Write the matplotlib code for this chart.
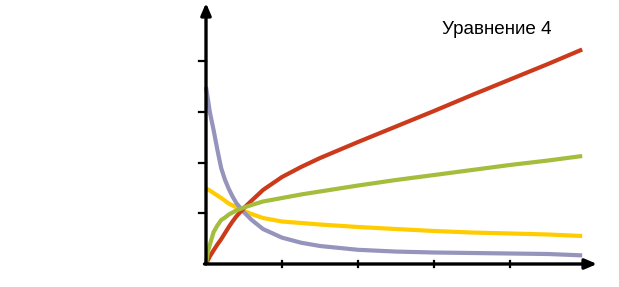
import matplotlib
matplotlib.use("Agg")
import matplotlib.pyplot as plt

x = [0, 0.025, 0.05, 0.1, 0.15, 0.2, 0.25, 0.3, 0.35, 0.4, 0.5, 0.6, 0.75, 1.0, 1.25, 1.5, 2, 2.5, 3, 3.5, 4, 4.5, 4.95]
blue = [3.49, 3.25, 3.00, 2.64, 2.25, 1.89, 1.66, 1.48, 1.33, 1.20, 1.02, 0.87, 0.69, 0.52, 0.42, 0.355, 0.28, 0.245, 0.227, 0.217, 0.207, 0.197, 0.17]
red = [0, 0.075, 0.148, 0.27, 0.385, 0.49, 0.61, 0.73, 0.84, 0.94, 1.105, 1.25, 1.46, 1.716, 1.913, 2.09, 2.406, 2.712, 3.018, 3.333, 3.639, 3.945, 4.231]
green = [0, 0.24, 0.38, 0.63, 0.76, 0.868, 0.917, 0.976, 1.016, 1.055, 1.114, 1.164, 1.233, 1.302, 1.371, 1.430, 1.548, 1.657, 1.755, 1.854, 1.953, 2.041, 2.130]
yellow = [1.489, 1.47, 1.450, 1.400, 1.351, 1.302, 1.248, 1.193, 1.154, 1.114, 1.045, 0.986, 0.907, 0.838, 0.809, 0.779, 0.730, 0.690, 0.651, 0.621, 0.602, 0.582, 0.552]
xticks = [1, 2, 3, 4]
yticks = [1, 2, 3, 4]
title = "Уравнение 4"

fig = plt.figure(figsize=(6.19, 2.87), dpi=100)
ax = fig.add_axes([0, 0, 1, 1])
ax.set_xlim(-206 / 76, (619 - 206) / 76)
ax.set_ylim(-(287 - 264) / 50.7, 264 / 50.7)
ax.axis('off')

kw = dict(lw=3, solid_capstyle='butt', solid_joinstyle='round')
ax.plot(x, yellow, color='#ffcc00', zorder=3, **kw)
ax.plot(x, blue, color='#9494bc', zorder=3, **kw)
ax.plot(x, red, color='#cc3a1c', zorder=4, **kw)
ax.plot(x, green, color='#a4bd3c', zorder=4, **kw)

xmax = (597 - 206) / 76
ymax = (264 - 3) / 50.7
ax.annotate('', xy=(0, ymax), xytext=(0, 0),
            arrowprops=dict(arrowstyle='-|>,head_length=0.7,head_width=0.3', lw=2.4,
                            color='black', shrinkA=0, shrinkB=0), zorder=5)
ax.annotate('', xy=(xmax, 0), xytext=(-0.02, 0),
            arrowprops=dict(arrowstyle='-|>,head_length=0.7,head_width=0.3', lw=2.4,
                            color='black', shrinkA=0, shrinkB=0), zorder=5)

# ticks
tx = 7 / 76
ty = 3 / 50.7
for t in yticks:
    ax.plot([-tx, 0], [t, t], color='black', lw=1.6, zorder=5)
for t in xticks:
    ax.plot([t, t], [-ty, ty], color='black', lw=1.6, zorder=5)

ax.text((442 - 206) / 76, (264 - 34) / 50.7, title, fontsize=13.6,
        family=['Liberation Sans', 'DejaVu Sans'], ha='left', va='baseline', color='black')

fig.savefig('out.png', dpi=100)
